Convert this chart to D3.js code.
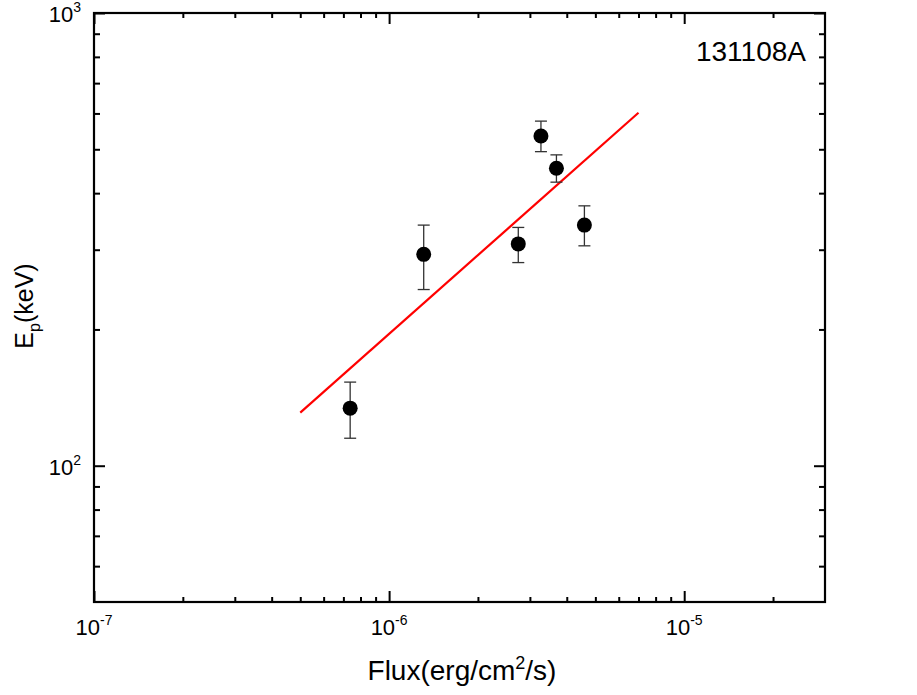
<!DOCTYPE html>
<meta charset="utf-8">
<style>
body { margin: 0; background: #fff; }
svg text { font-family: "Liberation Sans", Arial, sans-serif; fill: #000; }
.tick line { stroke: #000; stroke-width: 2; }
</style>
<svg width="917" height="695"></svg>
<script src="https://d3js.org/d3.v7.min.js"></script>
<script>

// data
var fluxVals = [7.38e-7, 1.31e-6, 2.74e-6, 3.27e-6, 3.69e-6, 4.59e-6];
var epVals   = [134, 293, 309, 535, 454, 340];
var epLow    = [115, 245, 281, 494, 423, 306];
var epHigh   = [153, 340, 336, 577, 486, 375];
var fitFlux  = [5e-7, 7e-6];
var fitEp    = [131, 602];
var xMajor   = [1e-7, 1e-6, 1e-5];
var xExp     = ["-7", "-6", "-5"];
var yMajor   = [100, 1000];
var yExp     = ["2", "3"];

var svg = d3.select("svg"),
    margin = {top: 13, right: 92, bottom: 93, left: 94},
    width = +svg.attr("width") - margin.left - margin.right,
    height = +svg.attr("height") - margin.top - margin.bottom;

var g = svg.append("g").attr("transform", "translate(" + margin.left + "," + margin.top + ")");

var x = d3.scaleLog().domain([1e-7, 3e-5]).range([0, width]);
var y = d3.scaleLog().domain([50, 1000]).range([height, 0]);

var xMinor = x.ticks().filter(d => xMajor.indexOf(d) < 0 && d < 3e-5);
var yMinor = y.ticks().filter(d => yMajor.indexOf(d) < 0 && d > 50);

// ticks, all pointing in
function ticks(axis, vals, size, tr) {
  g.append("g")
      .attr("transform", tr)
      .call(axis.tickValues(vals).tickSize(size).tickFormat(""))
      .call(a => a.select(".domain").remove());
}
ticks(d3.axisBottom(x), xMinor, -5, "translate(0," + height + ")");
ticks(d3.axisBottom(x), xMajor, -11, "translate(0," + height + ")");
ticks(d3.axisTop(x), xMinor, -5, "");
ticks(d3.axisTop(x), xMajor, -11, "");
ticks(d3.axisLeft(y), yMinor, -6, "");
ticks(d3.axisLeft(y), yMajor, -11, "");
ticks(d3.axisRight(y), yMinor, -6, "translate(" + width + ",0)");
ticks(d3.axisRight(y), yMajor, -11, "translate(" + width + ",0)");

g.append("rect")
    .attr("width", width).attr("height", height)
    .attr("fill", "none").attr("stroke", "#000").attr("stroke-width", 2.2);

// tick labels with superscripts
xMajor.forEach(function(v, i) {
  var t = g.append("text")
      .attr("x", x(v)).attr("y", height + 33)
      .attr("text-anchor", "middle")
      .style("font-size", "22px");
  t.append("tspan").text("10");
  t.append("tspan").attr("dy", -10).style("font-size", "14px").text(xExp[i]);
});
yMajor.forEach(function(v, i) {
  var t = g.append("text")
      .attr("x", -13).attr("y", y(v) + 9)
      .attr("text-anchor", "end")
      .style("font-size", "22px");
  t.append("tspan").text("10");
  t.append("tspan").attr("dy", -10).style("font-size", "14px").text(yExp[i]);
});

// axis titles
var xt = svg.append("text")
    .attr("x", 462).attr("y", 680)
    .attr("text-anchor", "middle")
    .style("font-size", "28px");
xt.append("tspan").text("Flux(erg/cm");
xt.append("tspan").attr("dy", -11).style("font-size", "18px").text("2");
xt.append("tspan").attr("dy", 11).text("/s)");

var yt = svg.append("text")
    .attr("transform", "translate(33,306) rotate(-90)")
    .attr("text-anchor", "middle")
    .style("font-size", "25px");
yt.append("tspan").text("E");
yt.append("tspan").attr("dy", 7).style("font-size", "16px").text("p");
yt.append("tspan").attr("dy", -7).text("(keV)");

svg.append("text")
    .attr("x", 806).attr("y", 61)
    .attr("text-anchor", "end")
    .style("font-size", "28px")
    .text("131108A");

// fit line
var line = d3.line().x(d => x(d[0])).y(d => y(d[1]));
g.append("path")
    .datum(d3.zip(fitFlux, fitEp))
    .attr("d", line)
    .attr("fill", "none").attr("stroke", "#ff0000").attr("stroke-width", 2.2);

// error bars
var pts = fluxVals.map((f, i) => ({f: f, ep: epVals[i], lo: epLow[i], hi: epHigh[i]}));
var eb = g.append("g").attr("stroke", "#333").attr("stroke-width", 1.3);
pts.forEach(function(p) {
  var px = x(p.f);
  eb.append("line").attr("x1", px).attr("x2", px).attr("y1", y(p.hi)).attr("y2", y(p.lo));
  eb.append("line").attr("x1", px - 6).attr("x2", px + 6).attr("y1", y(p.hi)).attr("y2", y(p.hi));
  eb.append("line").attr("x1", px - 6).attr("x2", px + 6).attr("y1", y(p.lo)).attr("y2", y(p.lo));
});

g.append("g").selectAll("circle")
    .data(pts)
  .enter().append("circle")
    .attr("cx", d => x(d.f))
    .attr("cy", d => y(d.ep))
    .attr("r", 7.5)
    .attr("fill", "#000");

</script>
